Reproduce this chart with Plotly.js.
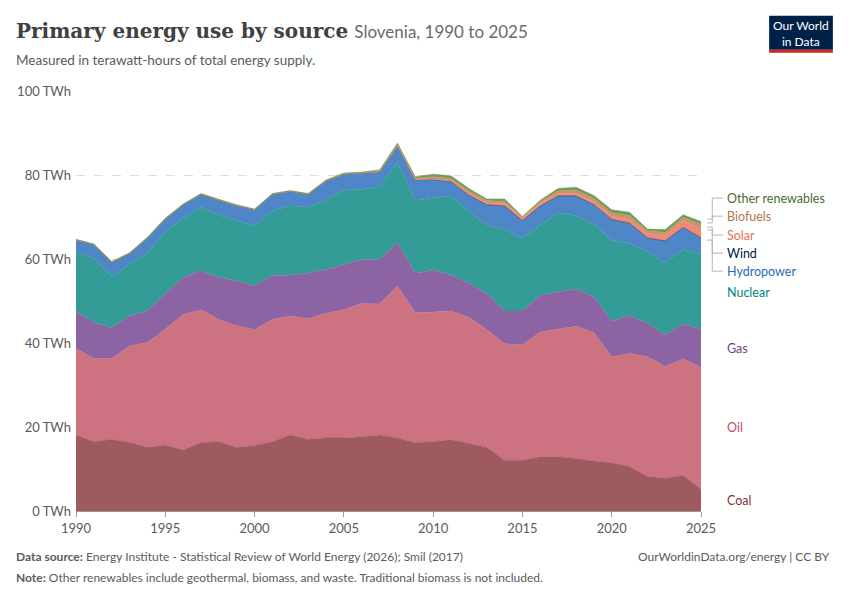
<!DOCTYPE html>
<html>
<head>
<meta charset="utf-8">
<script src="https://cdn.plot.ly/plotly-3.0.1.min.js"></script>
<style>
  body { margin: 0; background: white; }
  #chart { width: 850px; height: 600px; }
</style>
</head>
<body>
<div id="chart"></div>
<script>
var years = [];
for (var y = 1990; y <= 2025; y++) years.push(y);

// TWh per source
var coal = [18.1,16.5,17.1,16.3,15.2,15.7,14.5,16.3,16.5,15.1,15.6,16.5,18.1,17.1,17.4,17.4,17.7,18.1,17.4,16.3,16.5,17.0,16.1,15.2,12.1,12.1,12.9,12.9,12.5,11.9,11.5,10.6,8.2,7.8,8.5,5.2];
var oil = [20.6,19.8,19.2,23.0,24.9,27.6,32.3,31.6,29.1,29.0,27.6,29.1,28.3,28.7,29.7,30.5,31.7,31.2,36.2,30.9,30.9,30.6,30.0,28.0,27.7,27.4,29.7,30.4,31.5,30.6,25.2,26.9,28.5,26.6,27.7,29.0];
var gas = [8.8,8.6,7.4,7.1,7.6,8.5,8.8,9.3,10.0,10.7,10.4,10.4,9.8,10.8,10.4,10.8,10.4,10.6,10.3,9.4,10.0,8.6,8.1,8.6,7.8,8.1,8.7,8.9,8.8,8.5,8.5,9.0,8.0,7.5,8.3,9.1];
var nuclear = [14.1,15.3,12.2,12.2,13.8,14.7,14.1,15.1,14.9,14.3,14.3,15.5,16.5,15.7,16.5,17.7,16.8,17.3,19.0,17.3,17.2,18.8,17.1,16.3,19.4,17.3,16.8,18.8,17.5,17.3,19.3,17.2,17.0,17.2,17.8,17.9];
var hydro = [2.9,3.2,3.3,2.7,3.5,3.0,3.2,3.1,3.5,3.6,3.8,3.9,3.4,3.1,4.6,3.8,3.8,3.5,4.0,4.9,4.3,3.4,3.9,4.8,5.6,4.2,4.5,4.0,4.7,4.6,4.9,4.8,3.3,5.2,5.2,3.8];
var wind = [0,0,0,0,0,0,0,0,0,0,0,0,0,0,0,0,0,0,0,0,0,0,0,0.01,0.01,0.01,0.01,0.01,0.01,0.02,0.02,0.02,0.02,0.02,0.02,0.02];
var solar = [0,0,0,0,0,0,0,0,0,0,0,0,0,0,0,0,0,0,0,0,0.1,0.2,0.4,0.5,0.6,0.6,0.6,0.6,0.6,0.7,0.8,0.9,1.2,1.3,1.6,2.0];
var biofuels = [0,0,0,0,0,0,0,0,0,0,0,0,0,0,0,0.1,0.1,0.2,0.4,0.4,0.6,0.6,0.6,0.5,0.5,0.2,0.4,0.6,0.8,0.8,0.8,0.9,0.5,0.7,0.8,1.2];
var other = [0.2,0.2,0.2,0.2,0.2,0.2,0.2,0.2,0.2,0.2,0.2,0.2,0.2,0.2,0.2,0.2,0.2,0.3,0.3,0.4,0.6,0.6,0.6,0.4,0.6,0.2,0.4,0.6,0.7,0.7,0.7,0.8,0.4,0.7,0.6,0.7];

var tickValues = [0, 20, 40, 60, 80, 100];
var tickLabels = ['0 TWh', '20 TWh', '40 TWh', '60 TWh', '80 TWh', '100 TWh'];

var sources = [
  {name: 'Coal', y: coal, color: '#9e5a5f', label: 2.4},
  {name: 'Oil', y: oil, color: '#cc7281', label: 19.8},
  {name: 'Gas', y: gas, color: '#8c64a4', label: 38.6},
  {name: 'Nuclear', y: nuclear, color: '#339c96', label: 52.1},
  {name: 'Hydropower', y: hydro, color: '#4e86c8', label: 57.1},
  {name: 'Wind', y: wind, color: '#14305e', label: 61.4},
  {name: 'Solar', y: solar, color: '#ef8a76', label: 65.7},
  {name: 'Biofuels', y: biofuels, color: '#c9946a', label: 70.2},
  {name: 'Other renewables', y: other, color: '#6e9b5a', label: 74.5}
];
var labelColors = {'Coal':'#883039','Oil':'#c8485e','Gas':'#6d3e91','Nuclear':'#00847e','Hydropower':'#286bbb',
  'Wind':'#002147','Solar':'#e56e5a','Biofuels':'#b0764a','Other renewables':'#4c6a2f'};

var traces = sources.map(function(s) {
  return {
    x: years, y: s.y, name: s.name, type: 'scatter', mode: 'lines',
    stackgroup: 'one', fillcolor: s.color,
    line: { color: s.color, width: 0.5 },
    hovertemplate: '%{y:.1f} TWh<extra>' + s.name + '</extra>'
  };
});

var annotations = sources.map(function(s) {
  return {
    x: 1, xref: 'paper', xshift: 24, y: s.label, yref: 'y', text: s.name,
    showarrow: false, xanchor: 'left', font: { size: 12.5, color: labelColors[s.name] }
  };
});
annotations.push(
  { x: 0, xref: 'paper', xshift: -62, y: 1, yref: 'paper', yshift: 46, xanchor: 'left', yanchor: 'bottom', showarrow: false,
    text: '<span style="font-family:\'DejaVu Serif\';font-size:20px;color:#404040"><b>Primary energy use by source</b></span>  <span style="font-size:17px;color:#6a6a6a">Slovenia, 1990 to 2025</span>' },
  { x: 0, xref: 'paper', xshift: -62, y: 1, yref: 'paper', yshift: 21, xanchor: 'left', yanchor: 'bottom', showarrow: false,
    text: 'Measured in terawatt-hours of total energy supply.', font: { size: 13.5, color: '#5b5b5b' } },
  { x: 0, xref: 'paper', xshift: -62, y: 0, yref: 'paper', yshift: -36, xanchor: 'left', yanchor: 'top', showarrow: false,
    text: '<b>Data source:</b> Energy Institute - Statistical Review of World Energy (2026); Smil (2017)', font: { size: 12, color: '#5b5b5b' } },
  { x: 0, xref: 'paper', xshift: -62, y: 0, yref: 'paper', yshift: -57, xanchor: 'left', yanchor: 'top', showarrow: false,
    text: '<b>Note:</b> Other renewables include geothermal, biomass, and waste. Traditional biomass is not included.', font: { size: 12, color: '#5b5b5b' } },
  { x: 1, xref: 'paper', xshift: 131, y: 0, yref: 'paper', yshift: -36, xanchor: 'right', yanchor: 'top', showarrow: false,
    text: 'OurWorldinData.org/energy | CC BY', font: { size: 12, color: '#5b5b5b' } },
  { x: 1, xref: 'paper', xshift: 100, y: 1, yref: 'paper', yshift: 58, xanchor: 'center', yanchor: 'middle', showarrow: false,
    text: 'Our World<br>in Data', font: { size: 12, color: 'white', family: 'Lato' } }
);

var shapes = [
  { type: 'rect', xref: 'paper', yref: 'paper', x0: 1.109, x1: 1.211, y0: 1.098, y1: 1.179, fillcolor: '#002147', line: { width: 0 } },
  { type: 'rect', xref: 'paper', yref: 'paper', x0: 1.109, x1: 1.211, y0: 1.091, y1: 1.098, fillcolor: '#ce261e', line: { width: 0 } }
];
var conn = [[69.5, 74.5], [68.6, 70.2], [67.6, 65.7], [66.9, 61.4], [64.5, 57.1]];
conn.forEach(function(c) {
  shapes.push({ type: 'path', xref: 'paper', yref: 'y',
    path: 'M 1.01 ' + c[0] + ' L 1.018 ' + c[0] + ' L 1.018 ' + c[1] + ' L 1.035 ' + c[1],
    line: { color: '#b5b5b5', width: 1 } });
});

var layout = {
  width: 850, height: 600,
  margin: { l: 76, r: 149, t: 91, b: 89 },
  paper_bgcolor: 'white', plot_bgcolor: 'white',
  font: { family: 'Lato, "Noto Sans", sans-serif', color: '#5b5b5b' },
  showlegend: false,
  xaxis: { range: [1990, 2025], tickvals: [1990, 1995, 2000, 2005, 2010, 2015, 2020, 2025],
    showgrid: false, zeroline: false, showline: true, linecolor: '#999', ticks: 'outside', tickcolor: '#999',
    ticklen: 5, tickfont: { size: 13, color: '#5b5b5b' } },
  yaxis: { range: [0, 100], tickmode: 'array', tickvals: tickValues, ticktext: tickLabels,
    showgrid: true, gridcolor: '#dddddd', griddash: 'dash', zeroline: false, showline: false,
    ticks: '', ticklabelstandoff: 4, tickfont: { size: 13, color: '#5b5b5b' } },
  annotations: annotations,
  shapes: shapes
};

Plotly.newPlot('chart', traces, layout, { displayModeBar: false });
</script>
</body>
</html>
